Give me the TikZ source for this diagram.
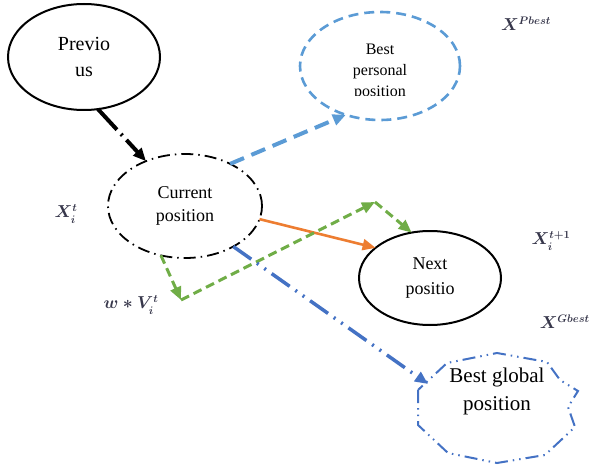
\documentclass[tikz,border=0pt]{standalone}
\usepackage{fontspec}
\setmainfont{Liberation Serif}
\usetikzlibrary{arrows.meta,shapes.geometric}
\definecolor{pblue}{RGB}{91,155,213}
\definecolor{gblue}{RGB}{68,114,196}
\definecolor{ogreen}{RGB}{112,173,71}
\definecolor{oorange}{RGB}{237,125,49}
\definecolor{lblgray}{RGB}{55,55,75}
\tikzset{
  ell/.style={ellipse,inner sep=0pt,outer sep=0pt,align=center},
  tip/.style={-{Triangle[length=13pt,width=11pt]}},
  mlabel/.style={font=\fontsize{16}{19}\selectfont\boldmath,text=lblgray,inner sep=0pt}
}
\begin{document}
\begin{tikzpicture}[x=1pt,y=-1pt]
\useasboundingbox (0,0) rectangle (591,468);
% nodes
\node[ell,draw=black,line width=2pt,minimum width=152pt,minimum height=106pt,
  font=\fontsize{20}{26}\selectfont] (prev) at (84,57) {Previo\\us};
\node[ell,draw=black,line width=1.8pt,dash pattern=on 12pt off 5pt on 1.5pt off 5pt,
  minimum width=154pt,minimum height=104pt,font=\fontsize{18}{23.5}\selectfont] (cur) at (185,206) {Current\\position};
\node[ell,draw=pblue,line width=2.6pt,dash pattern=on 10pt off 6pt,
  minimum width=160pt,minimum height=108pt] (pbest) at (380,66) {};
\begin{scope}
  \clip (290,10) rectangle (470,96);
  \node[align=center,inner sep=0pt,font=\fontsize{16}{21}\selectfont] (pbtext) at (380,72) {Best\\personal\\position};
\end{scope}
\node[ell,draw=black,line width=2pt,minimum width=142pt,minimum height=94pt,
  font=\fontsize{18}{25}\selectfont] (next) at (430,278) {Next\\positio};
% global best irregular outline
\draw[gblue,line width=2pt,dash pattern=on 13pt off 5pt on 1.5pt off 5pt on 1.5pt off 5pt]
  (418,390) -- (418,425) -- (448,453) -- (497,463) -- (545,455) -- (575,427)
  -- (568,407) -- (578,391) -- (560,380) -- (547,362) -- (497,353) -- (447,363) -- cycle;
\node[align=center,inner sep=0pt,font=\fontsize{21}{28}\selectfont] (gbest) at (497,391) {Best global\\position};
\coordinate (gtip) at (428,384);
% helper coordinates for green path
\coordinate (g1) at (181,300);
\coordinate (g2) at (375,202);
% connectors
\draw[tip,line width=4pt,dash pattern=on 28pt off 6pt on 2pt off 6pt] (prev.-75) -- (cur.131);
\draw[tip,pblue,line width=4pt,dash pattern=on 15pt off 8pt] (cur.43) -- (pbest.-125.5);
\draw[tip,oorange,line width=2.6pt] (cur.-10) -- (next.151);
\draw[tip,ogreen,line width=3pt,dash pattern=on 9pt off 5pt] (cur.-116) -- (g1);
\draw[tip,ogreen,line width=3pt,dash pattern=on 9pt off 5pt] (g1) -- (g2);
\draw[tip,ogreen,line width=3pt,dash pattern=on 9pt off 5pt] (g2) -- (next.112);
\draw[tip,gblue,line width=3.5pt,dash pattern=on 22pt off 7pt on 2pt off 7pt on 2pt off 7pt] (cur.-40) -- (gtip);
% math labels
\node[mlabel] (xp) at (526,24) {$X^{Pbest}$};
\node[mlabel] (xt) at (66,214) {$X_i^{t}$};
\node[mlabel] (xt1) at (551,241) {$X_i^{t+1}$};
\node[mlabel,anchor=east] (xg) at (590,322) {$X^{Gbest}$};
\node[mlabel] (wv) at (131,305) {$w*V_i^{t}$};
\end{tikzpicture}
\end{document}
